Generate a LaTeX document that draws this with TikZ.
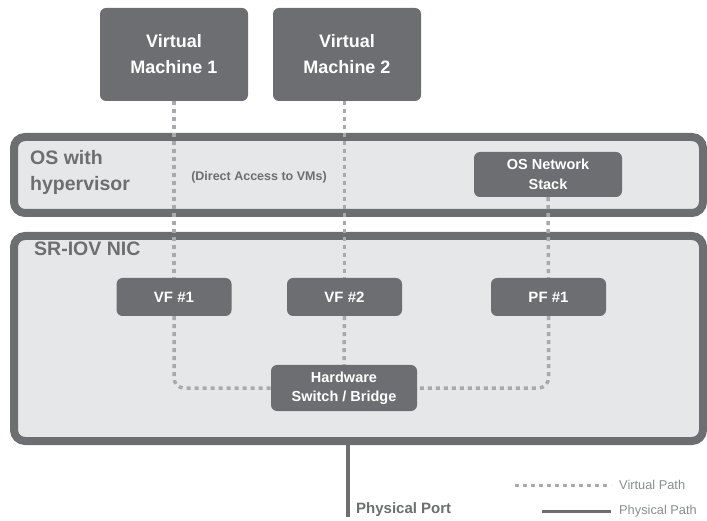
\documentclass[tikz,border=0pt]{standalone}
\usepackage{fontspec}
\setmainfont{Liberation Sans}
\definecolor{dk}{HTML}{6D6E71}
\definecolor{lt}{HTML}{E6E7E8}
\definecolor{dsh}{HTML}{A7A9AC}
\definecolor{lg}{HTML}{8A8C8E}
\begin{document}
\begin{tikzpicture}[x=1pt,y=-1pt,
  layer/.style={draw=dk,fill=lt,line width=8pt,rounded corners=11pt},
  darkbox/.style={fill=dk,rounded corners=6pt,text=white,font=\bfseries,align=center,inner sep=0pt},
  vpath/.style={draw=dsh,line width=3.5pt,dash pattern=on 4pt off 4pt},
  ppath/.style={draw=dk,line width=4pt},
  lay/.style={text=dk,font=\bfseries,anchor=north west,align=left,inner sep=0pt}]
\useasboundingbox (0,0) rectangle (707,521);
% layers
\draw[layer] (14,137) rectangle (703,213);
\draw[layer] (14,236) rectangle (703,441);
\node[lay,font=\bfseries\fontsize{19.5}{26}\selectfont] (os) at (30,150) {OS with\\hypervisor};
\node[lay,font=\bfseries\fontsize{19.5}{22}\selectfont] (nic) at (34,242) {SR-IOV NIC};
\node[text=dk,font=\bfseries\fontsize{12.5}{14}\selectfont] (da) at (259,177) {(Direct Access to VMs)};
% boxes
\node[darkbox,minimum width=148pt,minimum height=93pt,font=\bfseries\fontsize{18}{26}\selectfont] (vm1) at (174,54.5) {Virtual\\Machine 1};
\node[darkbox,minimum width=148pt,minimum height=93pt,font=\bfseries\fontsize{18}{26}\selectfont] (vm2) at (347,54.5) {Virtual\\Machine 2};
\node[darkbox,minimum width=148pt,minimum height=45pt,font=\bfseries\fontsize{14.5}{20}\selectfont] (ons) at (548,174.5) {OS Network\\Stack};
\node[darkbox,minimum width=115pt,minimum height=38pt,font=\bfseries\fontsize{15}{17}\selectfont] (vf1) at (174,297) {VF \#1};
\node[darkbox,minimum width=115pt,minimum height=38pt,font=\bfseries\fontsize{15}{17}\selectfont] (vf2) at (344.5,297) {VF \#2};
\node[darkbox,minimum width=115pt,minimum height=38pt,font=\bfseries\fontsize{15}{17}\selectfont] (pf1) at (548.5,297) {PF \#1};
\node[darkbox,minimum width=146pt,minimum height=46pt,font=\bfseries\fontsize{14.5}{19}\selectfont] (hw) at (344,388) {Hardware\\Switch / Bridge};
% virtual paths
\draw[vpath] (vm1.south) -- (vf1.north);
\draw[vpath] (vm2.south -| vf2.north) -- (vf2.north);
\draw[vpath] (ons.south) -- (pf1.north);
\draw[vpath,rounded corners=10pt] (vf1.south) |- (hw.west);
\draw[vpath,rounded corners=10pt] (pf1.south) |- (hw.east);
\draw[vpath] (vf2.south) -- (hw.north);
% physical
\coordinate (pp) at (348,517);
\draw[ppath] (348,445) -- (pp);
\node[text=dk,font=\bfseries\fontsize{15}{17}\selectfont,anchor=west,inner sep=0pt] (ppl) at (356,510) {Physical Port};
% legend
\coordinate (l1a) at (515,485); \coordinate (l1b) at (611,485);
\coordinate (l2a) at (542,511); \coordinate (l2b) at (611,511);
\draw[vpath,line width=3pt] (l1a) -- (l1b);
\draw[ppath,line width=3pt] (l2a) -- (l2b);
\node[text=lg,font=\fontsize{12.8}{15}\selectfont,anchor=west,inner sep=0pt] (lv) at (619,485) {Virtual Path};
\node[text=lg,font=\fontsize{12.8}{15}\selectfont,anchor=west,inner sep=0pt] (lp) at (619,511) {Physical Path};
\end{tikzpicture}
\end{document}
